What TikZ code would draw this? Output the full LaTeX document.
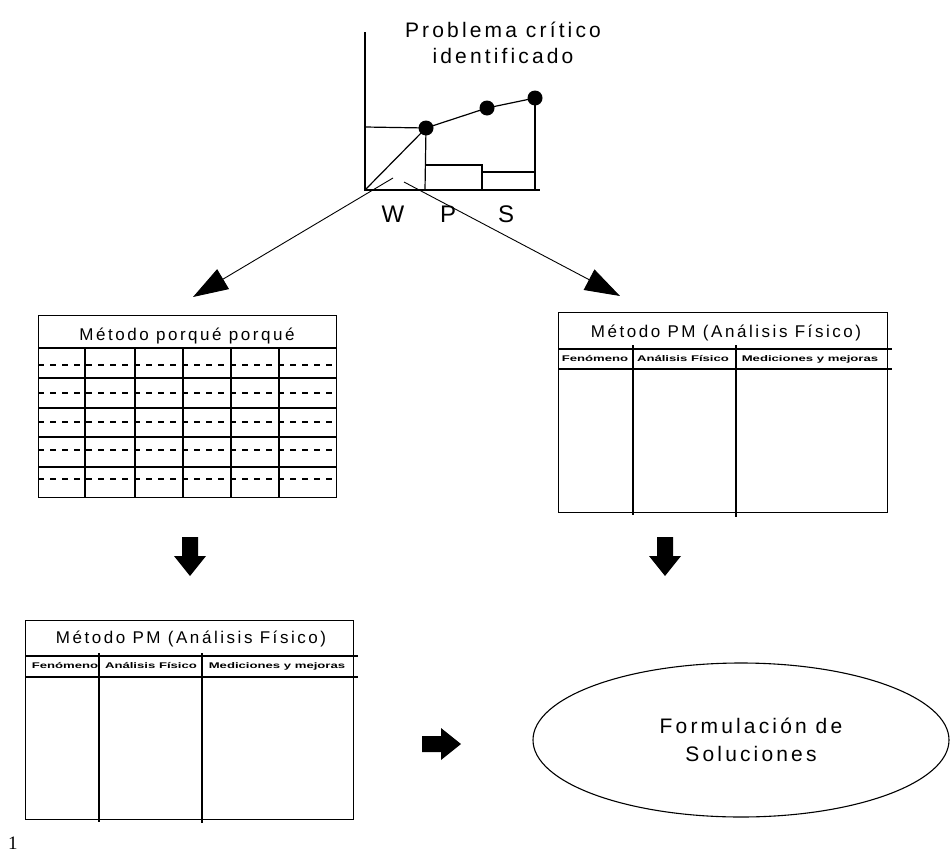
\documentclass[tikz,border=0pt]{standalone}
\usepackage{fontspec}
\setmainfont{Liberation Sans}
\newfontfamily\spacedfont[LetterSpace=15]{Liberation Sans}
\newfontfamily\numberfont{Liberation Serif}
\usetikzlibrary{arrows.meta,shapes.geometric}
\newcommand{\colhead}[1]{\scalebox{1.75}[1.1]{\bfseries #1}}

\begin{document}
\begin{tikzpicture}[x=1pt,y=-1pt]
    \tikzstyle{dot}=[circle,fill=black,minimum size=15pt,inner sep=0pt]
    \tikzstyle{chart}=[line width=1.2pt]
    \tikzstyle{tablebox}=[draw,line width=1.4pt,inner sep=0pt,anchor=north west]
    \tikzstyle{grid line}=[line width=1.2pt]
    \tikzstyle{dash line}=[line width=1.1pt,dash pattern=on 6pt off 6pt]
    \tikzstyle{big arrow}=[-{Triangle[length=35pt,width=23pt]},line width=0.9pt]
    \tikzstyle{annot}=[font=\spacedfont\fontsize{17}{20}\selectfont,anchor=base,inner sep=0pt]
    \tikzstyle{big annot}=[font=\spacedfont\fontsize{21}{28}\selectfont,anchor=base,inner sep=0pt]
    \tikzstyle{col annot}=[font=\fontsize{7.5}{8}\selectfont,inner sep=0pt]
    \tikzset{blockdown/.pic={\fill (-8,0) -- (8,0) -- (8,19) -- (16,19) -- (0,39) -- (-16,19) -- (-8,19) -- cycle;}}

    \useasboundingbox (0,0) rectangle (951,854);

    % Chart of the critical problem
    \coordinate (O) at (365,190);
    \coordinate (Y-top) at (365,32);
    \coordinate (X-end) at (540,190);
    \node[dot] (D-1) at (426,128) {};
    \node[dot] (D-2) at (487,108) {};
    \node[dot] (D-3) at (535,98) {};
    \draw[chart] (Y-top) -- (O) -- (X-end);
    \draw[chart] (365,127) -- (D-1.center);
    \draw[chart] (O) -- (D-1.center) -- (D-2.center) -- (D-3.center);
    \draw[chart] (D-1.center) -- (425,190);
    \draw[chart] (425,165) -- (482,165) -- (482,190);
    \draw[chart] (482,172) -- (535,172);
    \draw[chart] (D-3.center) -- (535,190);
    \node[big annot] (title-1) at (503,37) {Problema crítico};
    \node[big annot] (title-2) at (503,63) {identificado};
    \node[big annot,font=\spacedfont\fontsize{24}{28}\selectfont] (W) at (393,222) {W};
    \node[big annot,font=\spacedfont\fontsize{24}{28}\selectfont] (P) at (448,222) {P};
    \node[big annot,font=\spacedfont\fontsize{24}{28}\selectfont] (S) at (506,222) {S};

    % Arrows to the two methods
    \coordinate (w-tail) at (393,178);
    \coordinate (w-tip) at (193,297);
    \coordinate (p-tail) at (404,182);
    \coordinate (p-tip) at (620,296);
    \draw[big arrow] (w-tail) -- (w-tip);
    \draw[big arrow] (p-tail) -- (p-tip);

    % Metodo porque porque
    \node[tablebox,minimum width=298pt,minimum height=182pt] (T1) at (38,315) {};
    \draw[grid line] (38,348) -- (336,348);
    \foreach \y in {378,408,437,467}
        \draw[grid line] (38,\y) -- (336,\y);
    \foreach \x in {85,135,183,231,279}
        \draw[grid line] (\x,348) -- (\x,497);
    \foreach \y in {365,393,422,450,479}
        \draw[dash line] (38,\y) -- (336,\y);
    \node[annot] (T1-head) at (187,340) {Método porqué porqué};

    % Metodo PM (right)
    \node[tablebox,minimum width=329pt,minimum height=200pt] (T2) at (558,312) {};
    \draw[grid line] (558,349) -- (892,349);
    \draw[grid line] (558,369) -- (892,369);
    \draw[grid line] (633,345) -- (633,515);
    \draw[grid line] (736,345) -- (736,517);
    \node[annot] (T2-head) at (726,337) {Método PM (Análisis Físico)};
    \node[col annot] (T2-c1) at (595,359) {\colhead{Fenómeno}};
    \node[col annot] (T2-c2) at (683,359) {\colhead{Análisis Físico}};
    \node[col annot] (T2-c3) at (810,359) {\colhead{Mediciones y mejoras}};

    % Metodo PM (left)
    \node[tablebox,minimum width=328pt,minimum height=199pt] (T3) at (25,620) {};
    \draw[grid line] (25,656) -- (358,656);
    \draw[grid line] (25,677) -- (358,677);
    \draw[grid line] (99,653) -- (99,822);
    \draw[grid line] (202,653) -- (202,823);
    \node[annot] (T3-head) at (191,643) {Método PM (Análisis Físico)};
    \node[col annot] (T3-c1) at (65,666) {\colhead{Fenómeno}};
    \node[col annot] (T3-c2) at (151,666) {\colhead{Análisis Físico}};
    \node[col annot] (T3-c3) at (277,666) {\colhead{Mediciones y mejoras}};

    % Block arrows
    \pic at (190,537) {blockdown};
    \pic at (665,537) {blockdown};
    \pic[rotate=90] at (422,744) {blockdown};

    % Solutions
    \node[ellipse,draw,line width=1.1pt,minimum width=416pt,minimum height=154pt,
          font=\spacedfont\fontsize{21}{28}\selectfont,align=center] (Sol) at (741,740)
          {\hspace*{20pt}Formulación de\\\hspace*{20pt}Soluciones};

    \node[font=\numberfont\fontsize{19}{19}\selectfont,anchor=base,inner sep=0pt] (page-no) at (13,849) {1};
\end{tikzpicture}
\end{document}
